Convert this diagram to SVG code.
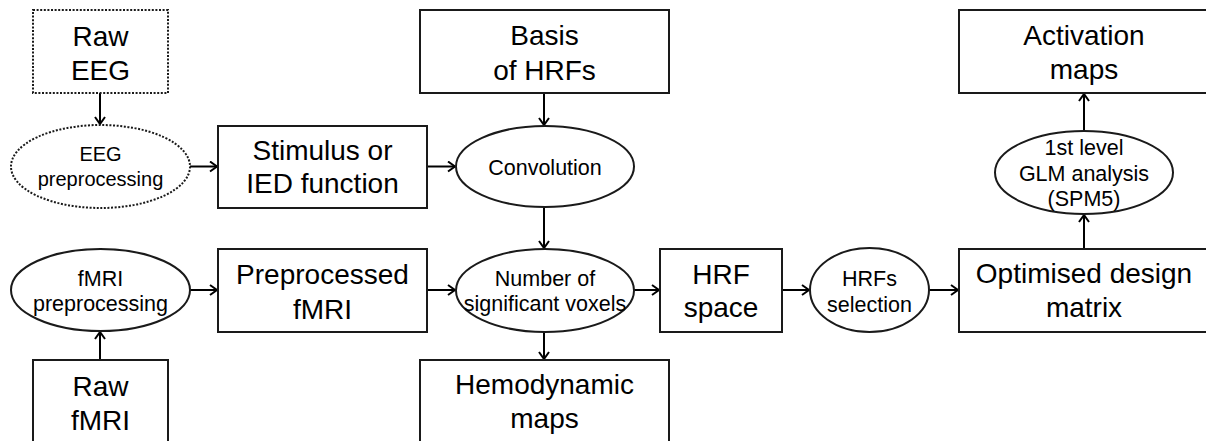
<svg xmlns="http://www.w3.org/2000/svg" width="1206" height="441" viewBox="0 0 1206 441">
<defs>
<marker id="arr" markerWidth="12" markerHeight="12" refX="9" refY="6" orient="auto" markerUnits="userSpaceOnUse">
<path d="M2,1 L9,6 L2,11" fill="none" stroke="#000" stroke-width="2"/>
</marker>
<style>
rect, ellipse { fill: #fff; stroke: #1a1a1a; stroke-width: 2; }
.dot { stroke-dasharray: 2 1.6; }
text { font-family: "Liberation Sans", Arial, sans-serif; fill: #000; text-anchor: middle; }
.big { font-size: 28px; }
.sm { font-size: 21.5px; }
.xs { font-size: 20px; }
#connectors line { stroke: #000; stroke-width: 2; marker-end: url(#arr); }
</style>
</defs>
<rect x="0" y="0" width="1206" height="441" style="fill:#fff;stroke:none"/>
<g id="connectors">
<line x1="100" y1="93" x2="100" y2="124"/>
<line x1="190" y1="166.5" x2="217" y2="166.5"/>
<line x1="544" y1="93" x2="544" y2="125"/>
<line x1="427" y1="166.5" x2="455" y2="166.5"/>
<line x1="544" y1="207" x2="544" y2="248"/>
<line x1="190" y1="290" x2="217" y2="290"/>
<line x1="100" y1="360" x2="100" y2="332"/>
<line x1="427" y1="290" x2="455" y2="290"/>
<line x1="544" y1="332" x2="544" y2="359"/>
<line x1="634" y1="290" x2="659" y2="290"/>
<line x1="782" y1="290" x2="809" y2="290"/>
<line x1="929" y1="290" x2="958" y2="290"/>
<line x1="1084" y1="248" x2="1084" y2="215"/>
<line x1="1084" y1="131" x2="1084" y2="94"/>
</g>
<g id="raw-eeg">
<rect class="dot" x="33" y="10" width="135" height="83"/>
<text class="big" x="100.5" y="46">Raw</text>
<text class="big" x="100.5" y="80">EEG</text>
</g>
<g id="eeg-preprocessing">
<ellipse class="dot" cx="100.5" cy="166.5" rx="89.5" ry="41.5"/>
<text class="xs" x="100.5" y="161">EEG</text>
<text class="xs" x="100.5" y="186">preprocessing</text>
</g>
<g id="stimulus">
<rect x="218" y="126" width="209" height="82"/>
<text class="big" x="322.5" y="160">Stimulus or</text>
<text class="big" x="322.5" y="193">IED function</text>
</g>
<g id="basis">
<rect x="420" y="10" width="249" height="83"/>
<text class="big" x="544.5" y="45">Basis</text>
<text class="big" x="544.5" y="79.5">of HRFs</text>
</g>
<g id="convolution">
<ellipse cx="545" cy="166.5" rx="89" ry="40.5"/>
<text class="sm" x="545" y="174.5">Convolution</text>
</g>
<g id="fmri-preprocessing">
<ellipse cx="100.5" cy="290" rx="89.5" ry="41"/>
<text class="sm" x="100.5" y="286">fMRI</text>
<text class="sm" x="100.5" y="311">preprocessing</text>
</g>
<g id="raw-fmri">
<rect x="33" y="360" width="135" height="84"/>
<text class="big" x="100.5" y="396">Raw</text>
<text class="big" x="100.5" y="430">fMRI</text>
</g>
<g id="preprocessed-fmri">
<rect x="218" y="249" width="209" height="83"/>
<text class="big" x="322.5" y="284">Preprocessed</text>
<text class="big" x="322.5" y="319">fMRI</text>
</g>
<g id="number-voxels">
<ellipse cx="545" cy="290.5" rx="89" ry="41.5"/>
<text class="sm" x="545" y="286">Number of</text>
<text class="sm" x="545" y="311">significant voxels</text>
</g>
<g id="hemodynamic-maps">
<rect x="420" y="360" width="249" height="84"/>
<text class="big" x="544.5" y="394">Hemodynamic</text>
<text class="big" x="544.5" y="428">maps</text>
</g>
<g id="hrf-space">
<rect x="660" y="249" width="122" height="83"/>
<text class="big" x="721" y="283.5">HRF</text>
<text class="big" x="721" y="317">space</text>
</g>
<g id="hrfs-selection">
<ellipse cx="869.5" cy="290" rx="59.5" ry="42"/>
<text class="sm" x="869.5" y="286">HRFs</text>
<text class="sm" x="869.5" y="311.5">selection</text>
</g>
<g id="design-matrix">
<rect x="959" y="249" width="250" height="83"/>
<text class="big" x="1084" y="283">Optimised design</text>
<text class="big" x="1084" y="317">matrix</text>
</g>
<g id="glm">
<ellipse cx="1084" cy="172.5" rx="89" ry="41.5"/>
<text class="sm" x="1084" y="155">1st level</text>
<text class="sm" x="1084" y="180.5">GLM analysis</text>
<text class="sm" x="1084" y="206">(SPM5)</text>
</g>
<g id="activation-maps">
<rect x="959" y="10" width="250" height="83"/>
<text class="big" x="1084" y="45">Activation</text>
<text class="big" x="1084" y="79">maps</text>
</g>
</svg>
